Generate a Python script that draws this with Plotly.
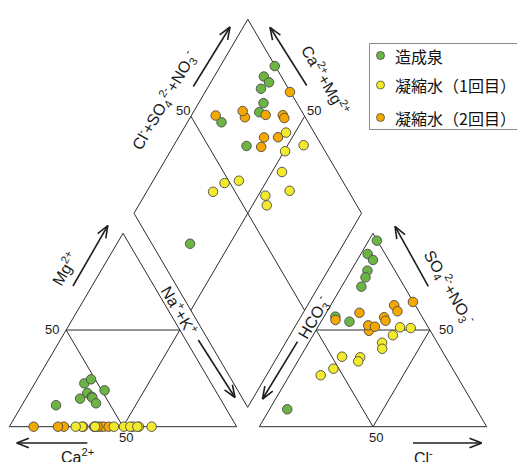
import math
import plotly.graph_objects as go

# ---------------- data (percent of meq) ----------------
series_names = ["造成泉", "凝縮水（1回目）", "凝縮水（2回目）"]
series_colors = ["#6cb444", "#f4ea2c", "#f5a900"]

# 造成泉 (green)
green_ca = [61.6, 55.8, 57.0, 51.8, 56.0, 56.0, 73.9, 55.8, 48.7]
green_mg = [14.5, 22.4, 17.4, 24.5, 15.5, 15.0, 11.1, 12.1, 18.8]
green_nak = [23.9, 21.8, 25.6, 23.7, 28.5, 29.0, 15.0, 32.1, 32.5]
green_hco3 = [0.2, 7.7, 6.9, 12.1, 14.7, 18.9, 38.1, 33.2, 83.2]
green_so4 = [96.2, 89.3, 86.2, 80.7, 77.2, 72.4, 56.9, 54.3, 9.0]
green_cl = [3.6, 3.0, 6.9, 7.2, 8.1, 8.7, 5.0, 12.5, 7.8]

# 凝縮水（1回目） (yellow)
yellow_ca = [54.0, 43.0, 49.6, 45.6, 62.3, 68.0, 70.8, 37.4, 46.8, 43.7]
yellow_mg = [0.0, 0.0, 0.0, 0.0, 0.0, 0.0, 0.0, 0.0, 0.0, 0.0]
yellow_nak = [46.0, 57.0, 50.4, 54.4, 37.7, 32.0, 29.2, 62.6, 53.2, 56.3]
yellow_hco3 = [12.4, 7.9, 17.6, 24.3, 45.5, 52.4, 59.7, 25.8, 37.7, 39.6]
yellow_so4 = [51.4, 51.0, 47.3, 43.4, 36.2, 30.0, 26.6, 40.3, 35.9, 33.8]
yellow_cl = [36.2, 41.1, 35.1, 32.3, 18.3, 17.6, 13.7, 33.9, 26.4, 26.6]

# 凝縮水（2回目） (orange)
orange_ca = [62.7, 59.9, 58.5, 76.0, 61.2, 89.3, 67.5, 56.3, 78.6, 62.4]
orange_mg = [0.0, 0.0, 0.0, 0.0, 0.0, 0.0, 0.0, 0.0, 0.0, 0.0]
orange_nak = [37.3, 40.1, 41.5, 24.0, 38.8, 10.7, 32.5, 43.7, 21.4, 37.6]
orange_hco3 = [0.2, 9.3, 9.4, 26.5, 27.0, 38.9, 16.8, 17.1, 25.9, 23.3]
orange_so4 = [64.5, 62.8, 59.7, 58.9, 49.6, 55.2, 56.6, 54.8, 52.4, 51.7]
orange_cl = [35.3, 27.9, 30.9, 14.6, 23.4, 5.9, 26.6, 28.1, 21.7, 25.0]

tick_label = "50"

# ---------------- geometry (pixel space) ----------------
W, H = 517, 462
LA, LB, LC = (9.3, 426.7), (236.7, 426.7), (123.0, 233.3)      # Ca, Na+K, Mg corners
RA, RB, RC = (259.3, 426.7), (486.7, 426.7), (373.0, 233.3)    # HCO3, Cl, SO4 corners
D0, DL, DR = (247.7, 407.3), (134.0, 213.3), (361.5, 213.3)    # diamond bottom, left, right
DT = (DL[0] + DR[0] - D0[0], DL[1] + DR[1] - D0[1])


def tern(a, b, c, fa, fb, fc):
    s = fa + fb + fc
    fa, fb, fc = fa / s, fb / s, fc / s
    return (fa * a[0] + fb * b[0] + fc * c[0], fa * a[1] + fb * b[1] + fc * c[1])


def cat_xy(ca, mg, nak):
    return tern(LA, LB, LC, ca, nak, mg)


def an_xy(hco3, so4, cl):
    return tern(RA, RB, RC, hco3, cl, so4)


def dia_xy(camg, clso4):
    a, b = camg / 100.0, clso4 / 100.0
    return (D0[0] + a * (DL[0] - D0[0]) + b * (DR[0] - D0[0]),
            D0[1] + a * (DL[1] - D0[1]) + b * (DR[1] - D0[1]))


def mid(p, q):
    return ((p[0] + q[0]) / 2, (p[1] + q[1]) / 2)


fig = go.Figure()
LINE = dict(color="#2b2b2b", width=1)


def add_poly(points, close=True, line=LINE):
    xs = [p[0] for p in points]
    ys = [p[1] for p in points]
    if close:
        xs.append(points[0][0])
        ys.append(points[0][1])
    fig.add_trace(go.Scatter(x=xs, y=ys, mode="lines", line=line,
                             hoverinfo="skip", showlegend=False))


# triangles + inner 50% lines
for A, B, C in [(LA, LB, LC), (RA, RB, RC)]:
    add_poly([A, B, C])
    add_poly([mid(A, C), mid(B, C), mid(A, B)], close=True)

# diamond + center lines
add_poly([D0, DL, DT, DR])
add_poly([mid(DL, DT), mid(DR, D0)], close=False)
add_poly([mid(DT, DR), mid(DL, D0)], close=False)


# arrows (open chevron heads)
def add_arrow(tail, head, L=13.0, ang=21.0):
    dx, dy = tail[0] - head[0], tail[1] - head[1]
    n = math.hypot(dx, dy)
    ux, uy = dx / n, dy / n
    xs, ys = [tail[0], head[0], None], [tail[1], head[1], None]
    for s in (1, -1):
        t = math.radians(ang * s)
        rx = ux * math.cos(t) - uy * math.sin(t)
        ry = ux * math.sin(t) + uy * math.cos(t)
        xs += [head[0] + L * rx, head[0], None]
        ys += [head[1] + L * ry, head[1], None]
    fig.add_trace(go.Scatter(x=xs, y=ys, mode="lines",
                             line=dict(color="#1e1e1e", width=1.6),
                             hoverinfo="skip", showlegend=False))


arrows = [
    ((193.3, 86.5), (230.0, 27.0)),
    ((306.7, 85.5), (270.0, 27.3)),
    ((73.0, 286.0), (107.8, 225.5)),
    ((198.3, 340.0), (235.0, 397.5)),
    ((87.3, 443.0), (16.7, 443.0)),
    ((297.5, 341.7), (262.5, 399.0)),
    ((428.3, 286.3), (395.0, 226.3)),
    ((413.0, 443.0), (481.7, 443.0)),
]
for t, h in arrows:
    add_arrow(t, h)

# data markers
groups = [
    (green_ca, green_mg, green_nak, green_hco3, green_so4, green_cl),
    (orange_ca, orange_mg, orange_nak, orange_hco3, orange_so4, orange_cl),
    (yellow_ca, yellow_mg, yellow_nak, yellow_hco3, yellow_so4, yellow_cl),
]
order = [0, 2, 1]
for gi, (ca, mg, nak, hco3, so4, cl) in zip(order, groups):
    pts = []
    for i in range(len(ca)):
        pts.append(cat_xy(ca[i], mg[i], nak[i]))
        pts.append(an_xy(hco3[i], so4[i], cl[i]))
        pts.append(dia_xy(ca[i] + mg[i], so4[i] + cl[i]))
    fig.add_trace(go.Scatter(
        x=[p[0] for p in pts], y=[p[1] for p in pts], mode="markers",
        marker=dict(size=9.5, color=series_colors[gi],
                    line=dict(color="#4a4a4a", width=0.9)),
        name=series_names[gi], showlegend=False))

# legend (manual)
fig.add_shape(type="rect", x0=369.5, y0=43.5, x1=530, y1=129.5,
              line=dict(color="#8a8a8a", width=1), fillcolor="white", layer="below")
leg_y = [55.5, 85.0, 117.5]
fig.add_trace(go.Scatter(x=[380.5] * 3, y=leg_y, mode="markers",
                         marker=dict(size=8, color=series_colors,
                                     line=dict(color="#4a4a4a", width=0.8)),
                         hoverinfo="skip", showlegend=False))
for name, yy in zip(series_names, leg_y):
    fig.add_annotation(x=393, y=yy, text=name, showarrow=False, xanchor="left",
                       yanchor="middle",
                       font=dict(family="Noto Sans CJK JP", size=16, color="#111"))

FONT = dict(family="Liberation Sans, Arial, sans-serif", size=16, color="#1a1a1a")
ANG = math.degrees(math.atan2(DT[1] - DL[1], DT[0] - DL[0]))  # ~ -59.4
labels = [
    ("Cl<sup>-</sup>+SO<sub>4</sub><sup>2-</sup>+NO<sub>3</sub><sup>-</sup>", 164.0, 101.0, ANG),
    ("Ca<sup>2+</sup>+Mg<sup>2+</sup>", 326.0, 80.0, -ANG),
    ("Mg<sup>2+</sup>", 64.0, 269.0, ANG),
    ("Na<sup>+</sup>+K<sup>+</sup>", 179.5, 310.0, -ANG),
    ("HCO<sub>3</sub><sup>-</sup>", 313.5, 318.0, ANG),
    ("SO<sub>4</sub><sup>2-</sup>+NO<sub>3</sub><sup>-</sup>", 449.0, 287.0, -ANG),
    ("Ca<sup>2+</sup>", 77.0, 455.5, 0),
    ("Cl<sup>-</sup>", 423.5, 456.5, 0),
]
for txt, x, y, a in labels:
    fig.add_annotation(x=x, y=y, text=txt, showarrow=False, textangle=a,
                       xanchor="center", yanchor="middle", font=FONT)

FONT50 = dict(family="Liberation Sans, Arial, sans-serif", size=13, color="#1a1a1a")
fifty = [(51.7, 329.3), (126.0, 437.5), (445.7, 329.3), (375.7, 437.5),
         (182.7, 110.0), (314.0, 110.0)]
for x, y in fifty:
    fig.add_annotation(x=x, y=y, text=tick_label, showarrow=False,
                       xanchor="center", yanchor="middle", font=FONT50)

fig.update_layout(
    width=W, height=H, autosize=False,
    margin=dict(l=0, r=0, t=0, b=0, pad=0),
    paper_bgcolor="white", plot_bgcolor="white",
    xaxis=dict(range=[0, W], visible=False, fixedrange=True),
    yaxis=dict(range=[H, 0], visible=False, fixedrange=True),
    showlegend=False,
)
fig.write_html("out.html", config={"displayModeBar": False},
               post_script="document.body.style.margin='0px';document.body.style.overflow='hidden';")
